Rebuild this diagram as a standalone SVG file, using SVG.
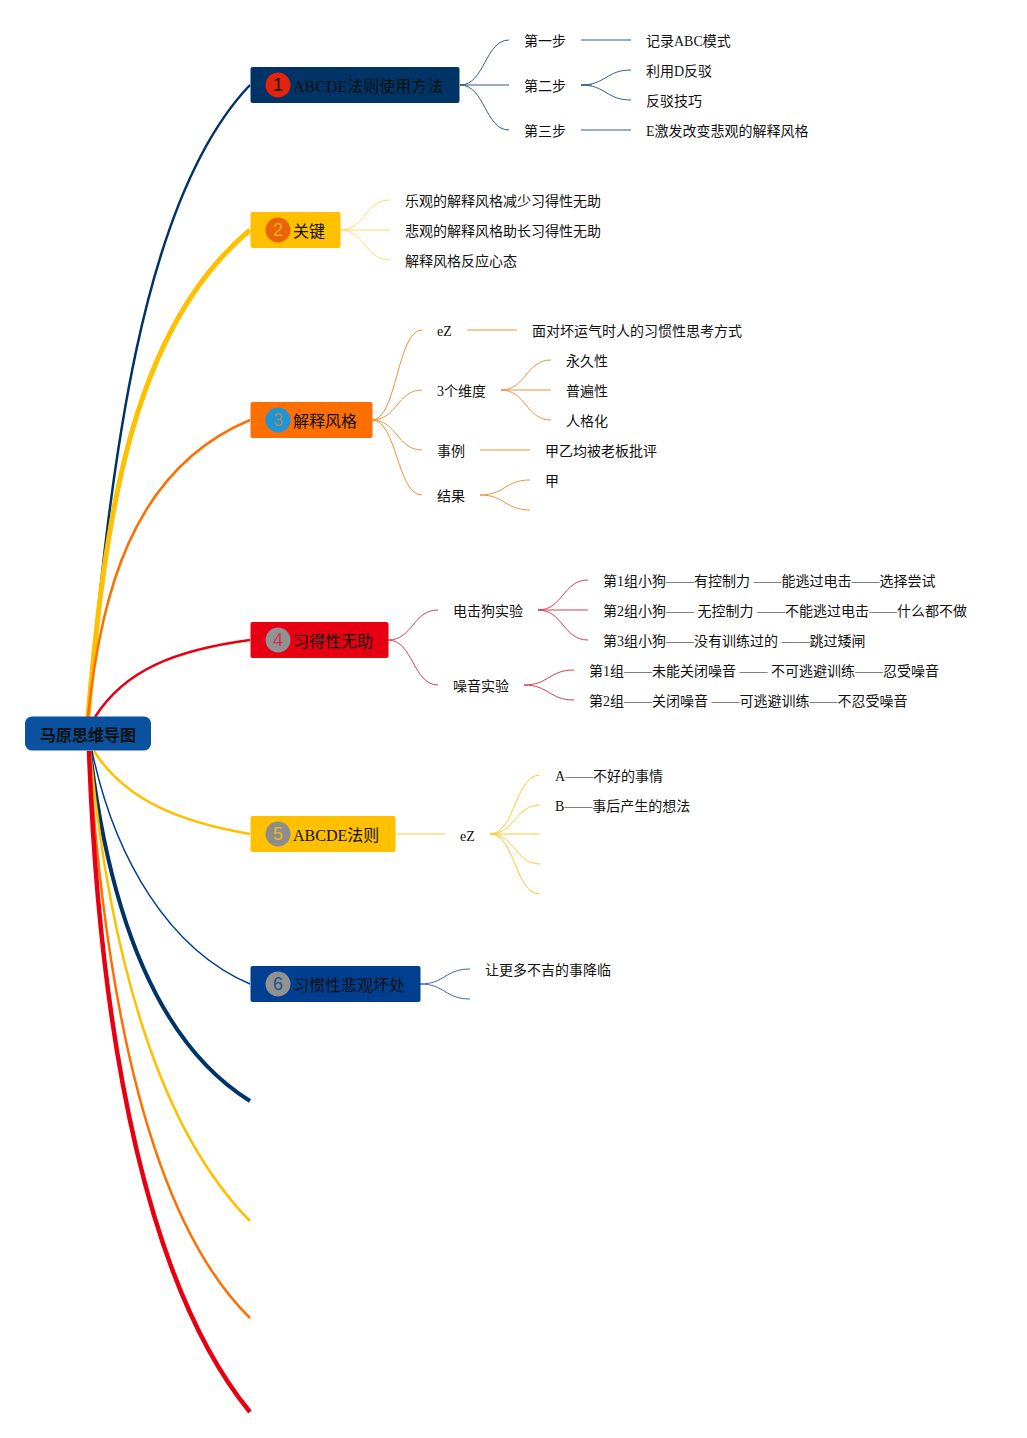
<svg xmlns="http://www.w3.org/2000/svg" width="1027" height="1438" viewBox="0 0 1027 1438">
<style>
text{font-family:"Liberation Serif","Noto Sans CJK SC",serif;fill:#111;font-size:14px}
.n{font-size:16px}
.r{font-size:16px;font-weight:700}
.b{font-family:"Liberation Sans","Noto Sans",sans-serif;font-size:18px;text-anchor:middle}
path{fill:none;stroke-linecap:butt}
.l1{stroke:#335c85;stroke-width:1}
.l2{stroke:#ffd966;stroke-width:1}
.l3{stroke:#f0913c;stroke-width:1}
.l4{stroke:#d23c55;stroke-width:1}
.l5{stroke:#ffc933;stroke-width:1}
.l6{stroke:#3a67a8;stroke-width:1}
</style>
<rect width="1027" height="1438" fill="#fff"/>
<g id="connectors">
<path d="M88 717C110 470 140 200 250 85" stroke="#003366" stroke-width="2.5"/>
<path d="M88 717C105 520 130 330 250 230" stroke="#ffc000" stroke-width="5"/>
<path d="M88 717C100 600 130 470 250 420" stroke="#ff6f00" stroke-width="2.5"/>
<path d="M95 717C125 670 175 650 250 640" stroke="#e60012" stroke-width="2.5"/>
<path d="M94 751C125 800 180 822 250 834" stroke="#ffc000" stroke-width="2.5"/>
<path d="M92 751C115 860 170 950 250 984" stroke="#003f8f" stroke-width="1.5"/>
<path d="M90 751C110 920 160 1045 250 1101" stroke="#003366" stroke-width="4"/>
<path d="M90 751C110 960 160 1130 250 1221" stroke="#ffc000" stroke-width="2.5"/>
<path d="M89 751C105 1000 150 1220 250 1318" stroke="#ff6f00" stroke-width="2.5"/>
<path d="M89 751C100 1050 150 1290 250 1412" stroke="#e60012" stroke-width="4.5"/>
<path class="l1" d="M460 85C485 85 485 40 509 40M460 85H509M460 85C485 85 485 130 509 130"/>
<path class="l1" d="M581 40H631M581 85C606 85 606 70 631 70M581 85C606 85 606 100 631 100M581 85H592M581 130H631"/>
<path class="l2" d="M340 230C365 230 365 200 390 200M340 230H390M340 230C365 230 365 260 390 260"/>
<path class="l3" d="M372 420C397 420 397 330 422 330M372 420C397 420 397 390 422 390M372 420C397 420 397 450 422 450M372 420C397 420 397 495 422 495"/>
<path class="l3" d="M467 330H517M501 390C526 390 526 360 551 360M501 390H551M501 390C526 390 526 420 551 420M480 450H530M480 495C505 495 505 480 530 480M480 495C505 495 505 510 530 510"/>
<path class="l4" d="M388 640C413 640 413 610 438 610M388 640C413 640 413 685 438 685"/>
<path class="l4" d="M538 610C563 610 563 580 588 580M538 610H588M538 610C563 610 563 640 588 640M524 685C549 685 549 670 574 670M524 685C549 685 549 700 574 700"/>
<path class="l5" d="M395 834H445"/>
<path class="l5" d="M490 834C515 834 515 775 540 775M490 834C515 834 515 805 540 805M490 834H540M490 834C515 834 515 864 540 864M490 834C515 834 515 894 540 894"/>
<path class="l6" d="M420 984C445 984 445 969 470 969M420 984C445 984 445 999 470 999"/>
</g>
<g id="root"><rect x="25" y="716.500" width="126" height="34" rx="7" fill="#0a52a0"/><text class="r" x="40" y="741">马原思维导图</text></g>
<g id="node1"><rect x="250.500" y="67" width="209" height="36" rx="2" fill="#003366"/><circle cx="278" cy="85" r="12.500" fill="#e3230b"/><text class="b" x="278" y="91">1</text><text class="n" x="293" y="92">ABCDE法则使用方法</text></g>
<g id="node2"><rect x="250.500" y="212" width="90" height="36" rx="2" fill="#ffc000"/><circle cx="278" cy="230" r="12.500" fill="#e8650c"/><text class="b" x="278" y="236" style="fill:#f5a623">2</text><text class="n" x="293" y="237">关键</text></g>
<g id="node3"><rect x="250.500" y="402" width="122" height="36" rx="2" fill="#ff6f00"/><circle cx="278" cy="420" r="12.500" fill="#1e96d8"/><text class="b" x="278" y="426" style="fill:#a88a55">3</text><text class="n" x="293" y="427">解释风格</text></g>
<g id="node4"><rect x="250.500" y="622" width="138" height="36" rx="2" fill="#e60012"/><circle cx="278" cy="640" r="12.500" fill="#929292"/><text class="b" x="278" y="646" style="fill:#d6304a">4</text><text class="n" x="293" y="647">习得性无助</text></g>
<g id="node5"><rect x="250.500" y="816" width="145" height="36" rx="2" fill="#ffc000"/><circle cx="278" cy="834" r="12.500" fill="#8c8c8c"/><text class="b" x="278" y="840" style="fill:#e8b820">5</text><text class="n" x="293" y="841">ABCDE法则</text></g>
<g id="node6"><rect x="250.500" y="966" width="170" height="36" rx="2" fill="#003f8f"/><circle cx="278" cy="984" r="12.500" fill="#929292"/><text class="b" x="278" y="990" style="fill:#1f4f96">6</text><text class="n" x="293" y="991">习惯性悲观坏处</text></g>
<g id="labels">
<text x="524" y="46">第一步</text><text x="524" y="91">第二步</text><text x="524" y="136">第三步</text>
<text x="646" y="46">记录ABC模式</text><text x="646" y="76">利用D反驳</text><text x="646" y="106">反驳技巧</text><text x="646" y="136">E激发改变悲观的解释风格</text>
<text x="405" y="206">乐观的解释风格减少习得性无助</text><text x="405" y="236">悲观的解释风格助长习得性无助</text><text x="405" y="266">解释风格反应心态</text>
<text x="437" y="336">eZ</text><text x="532" y="336">面对坏运气时人的习惯性思考方式</text><text x="437" y="396">3个维度</text><text x="566" y="366">永久性</text><text x="566" y="396">普遍性</text><text x="566" y="426">人格化</text><text x="437" y="456">事例</text><text x="545" y="456">甲乙均被老板批评</text><text x="437" y="501">结果</text><text x="545" y="486">甲</text>
<text x="453" y="616">电击狗实验</text><text x="453" y="691">噪音实验</text>
<text x="603" y="586">第1组小狗——有控制力 ——能逃过电击——选择尝试</text><text x="603" y="616">第2组小狗—— 无控制力 ——不能逃过电击——什么都不做</text><text x="603" y="646">第3组小狗——没有训练过的 ——跳过矮闸</text>
<text x="589" y="676">第1组——未能关闭噪音 —— 不可逃避训练——忍受噪音</text><text x="589" y="706">第2组——关闭噪音 ——可逃避训练——不忍受噪音</text>
<text x="460" y="841">eZ</text><text x="555" y="781">A——不好的事情</text><text x="555" y="811">B——事后产生的想法</text>
<text x="485" y="975">让更多不吉的事降临</text>
</g>
</svg>
